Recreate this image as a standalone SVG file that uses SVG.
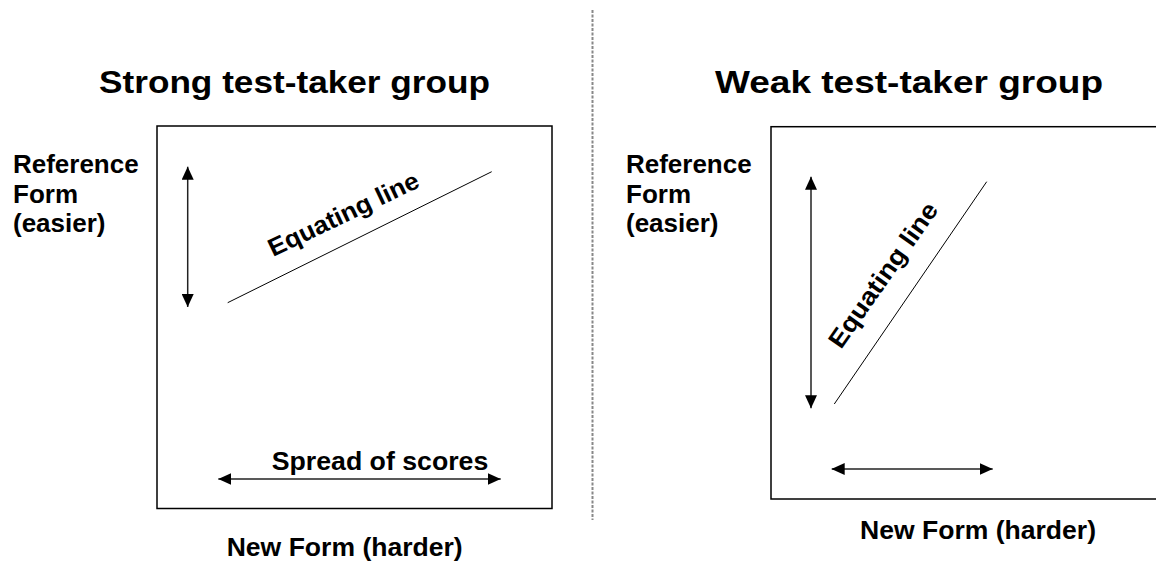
<svg xmlns="http://www.w3.org/2000/svg" width="1156" height="575" viewBox="0 0 1156 575">
<style>
text{font-family:"Liberation Sans",Arial,sans-serif;font-weight:bold;fill:#000}
.title{font-size:32px}
.lbl{font-size:25px}
.box{fill:#fff;stroke:#000;stroke-width:1.5}
.arr{stroke:#222;stroke-width:1.5;fill:none;marker-start:url(#ah);marker-end:url(#ah)}
.eq{stroke:#000;stroke-width:1;fill:none}
</style>
<defs>
<marker id="ah" markerUnits="userSpaceOnUse" markerWidth="13" markerHeight="12" refX="13" refY="6" orient="auto-start-reverse">
<path d="M0,0 L13,6 L0,12 z" fill="#000"/>
</marker>
</defs>
<rect width="1156" height="575" fill="#fff"/>
<line x1="592.5" y1="10" x2="592.5" y2="520" stroke="#888" stroke-width="2" stroke-dasharray="3 1.5"/>
<g id="strong">
<text class="title" x="99" y="93" textLength="391" lengthAdjust="spacingAndGlyphs">Strong test-taker group</text>
<rect class="box" x="157" y="126" width="395" height="382.5"/>
<text class="lbl" x="13" y="173" textLength="125.6" lengthAdjust="spacingAndGlyphs">Reference</text>
<text class="lbl" x="13" y="202.5" textLength="65" lengthAdjust="spacingAndGlyphs">Form</text>
<text class="lbl" x="13" y="232" textLength="92.5" lengthAdjust="spacingAndGlyphs">(easier)</text>
<text class="lbl" x="226.7" y="556" textLength="236" lengthAdjust="spacingAndGlyphs">New Form (harder)</text>
<text class="lbl" x="271.7" y="470" textLength="216.6" lengthAdjust="spacingAndGlyphs">Spread of scores</text>
<text class="lbl" transform="translate(273,257) rotate(-25.5)" textLength="164" lengthAdjust="spacingAndGlyphs">Equating line</text>
</g>
<g id="weak">
<text class="title" x="715" y="93" textLength="388" lengthAdjust="spacingAndGlyphs">Weak test-taker group</text>
<rect class="box" x="771" y="126.7" width="400" height="372.3"/>
<text class="lbl" x="626" y="173" textLength="125.6" lengthAdjust="spacingAndGlyphs">Reference</text>
<text class="lbl" x="626" y="202.5" textLength="65" lengthAdjust="spacingAndGlyphs">Form</text>
<text class="lbl" x="626" y="232" textLength="92.5" lengthAdjust="spacingAndGlyphs">(easier)</text>
<text class="lbl" x="860" y="539" textLength="236" lengthAdjust="spacingAndGlyphs">New Form (harder)</text>
<text class="lbl" transform="translate(841,350) rotate(-55)" textLength="171" lengthAdjust="spacingAndGlyphs">Equating line</text>
</g>
<g id="connectors">
<line class="arr" x1="187.7" y1="166.7" x2="187.7" y2="307"/>
<line class="eq" x1="227.7" y1="302.7" x2="491.7" y2="171.7"/>
<line class="arr" x1="218.3" y1="479" x2="500.7" y2="479"/>
<line class="arr" x1="811" y1="176.7" x2="811" y2="408.3"/>
<line class="eq" x1="834.3" y1="404" x2="986.7" y2="181.7"/>
<line class="arr" x1="831.7" y1="469" x2="992.7" y2="469"/>
</g>
</svg>
